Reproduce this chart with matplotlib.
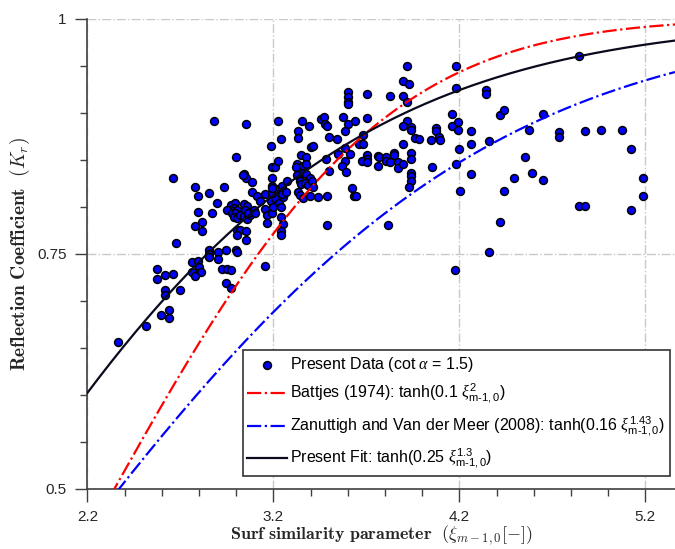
import matplotlib
matplotlib.use("Agg")
import matplotlib.pyplot as plt
from matplotlib.font_manager import FontProperties
import numpy as np

plt.rcParams['font.family'] = ['Liberation Sans', 'DejaVu Sans']
plt.rcParams['mathtext.fontset'] = 'cm'
# custom math fonts are only used by the legend (sans scripts, serif italic greek)
plt.rcParams['mathtext.rm'] = 'Liberation Sans'
plt.rcParams['mathtext.sf'] = 'Liberation Sans'
plt.rcParams['mathtext.it'] = 'Liberation Serif:italic'
plt.rcParams['mathtext.bf'] = 'Liberation Sans:bold'

# measured data: surf similarity parameter and reflection coefficient
xi_data = [
    2.362, 2.514, 2.596, 2.638, 2.638, 2.616, 2.616, 2.696, 2.576, 2.576,
    2.616, 2.658, 2.678, 2.760, 2.795, 2.799, 2.760, 2.808, 2.778, 2.658,
    2.778, 2.794, 2.795, 2.778, 2.817, 2.817, 2.852, 2.852, 2.852, 2.852,
    2.902, 2.902, 2.947, 3.000, 3.004, 2.924, 2.950, 2.974, 2.947, 2.972,
    3.054, 3.156, 2.870, 2.894, 2.933, 2.883, 3.054, 3.000, 2.972, 2.995,
    2.986, 3.004, 2.965, 2.950, 2.977, 2.995, 2.986, 3.004, 3.022, 3.040,
    3.057, 3.075, 3.040, 3.057, 3.049, 3.066, 3.093, 3.102, 3.004, 3.022,
    3.004, 3.054, 3.040, 3.052, 3.036, 3.084, 3.084, 3.111, 3.156, 3.129,
    3.156, 3.164, 3.164, 3.191, 3.188, 3.200, 3.209, 3.232, 3.239, 3.250,
    3.239, 3.253, 3.239, 3.239, 3.191, 3.218, 3.248, 3.244, 3.268, 3.193,
    3.193, 3.193, 3.271, 3.191, 3.209, 3.223, 3.189, 3.239, 3.223, 3.353,
    3.392, 3.334, 3.334, 3.403, 3.348, 3.375, 3.325, 3.321, 3.360, 3.373,
    3.325, 3.343, 3.357, 3.378, 3.396, 3.351, 3.369, 3.387, 3.405, 3.334,
    3.343, 3.360, 3.399, 3.414, 3.414, 3.441, 3.490, 3.498, 3.490, 3.622,
    3.632, 3.642, 3.458, 3.473, 3.476, 3.490, 3.574, 3.601, 3.638, 3.704,
    3.583, 3.499, 3.544, 3.681, 3.658, 3.681, 3.583, 3.548, 3.610, 3.485,
    3.583, 3.571, 3.592, 3.704, 3.704, 3.678, 3.704, 3.761, 3.761, 3.601,
    3.601, 3.601, 3.601, 3.704, 3.826, 3.918, 3.895, 3.931, 3.895, 3.917,
    3.917, 3.895, 3.940, 3.940, 3.963, 3.984, 4.050, 3.895, 3.767, 3.803,
    3.803, 3.847, 3.847, 3.827, 3.872, 3.872, 3.895, 3.940, 3.940, 3.940,
    3.940, 3.940, 3.929, 4.052, 3.815, 4.180, 4.180, 4.341, 4.341, 4.421,
    4.439, 4.845, 4.649, 4.159, 4.159, 4.195, 4.195, 4.073, 4.073, 4.091,
    4.095, 4.262, 4.262, 4.198, 4.362, 4.574, 4.736, 4.736, 4.877, 4.963,
    5.077, 5.125, 4.555, 4.180, 4.592, 4.263, 4.492, 4.649, 5.189, 5.189,
    4.202, 4.439, 4.842, 4.877, 5.125, 4.421, 4.362, 4.179,
]
kr_data = [
    0.656, 0.673, 0.685, 0.690, 0.682, 0.711, 0.706, 0.711, 0.734, 0.723,
    0.727, 0.728, 0.761, 0.741, 0.742, 0.736, 0.731, 0.731, 0.726, 0.831,
    0.821, 0.811, 0.794, 0.779, 0.784, 0.774, 0.815, 0.754, 0.750, 0.747,
    0.752, 0.744, 0.754, 0.754, 0.752, 0.734, 0.734, 0.733, 0.719, 0.714,
    0.765, 0.737, 0.793, 0.804, 0.821, 0.891, 0.888, 0.853, 0.802, 0.804,
    0.799, 0.797, 0.796, 0.796, 0.793, 0.793, 0.789, 0.788, 0.791, 0.790,
    0.787, 0.791, 0.803, 0.801, 0.797, 0.793, 0.797, 0.793, 0.775, 0.775,
    0.770, 0.774, 0.835, 0.831, 0.834, 0.826, 0.816, 0.811, 0.814, 0.806,
    0.798, 0.791, 0.783, 0.793, 0.806, 0.800, 0.809, 0.804, 0.800, 0.810,
    0.789, 0.782, 0.774, 0.770, 0.815, 0.819, 0.822, 0.813, 0.816, 0.822,
    0.820, 0.831, 0.827, 0.842, 0.842, 0.849, 0.865, 0.872, 0.891, 0.891,
    0.886, 0.880, 0.873, 0.863, 0.855, 0.853, 0.845, 0.842, 0.843, 0.845,
    0.834, 0.827, 0.836, 0.835, 0.831, 0.824, 0.825, 0.823, 0.827, 0.816,
    0.812, 0.809, 0.811, 0.864, 0.821, 0.810, 0.811, 0.838, 0.781, 0.820,
    0.811, 0.811, 0.893, 0.895, 0.888, 0.886, 0.895, 0.888, 0.891, 0.894,
    0.880, 0.874, 0.872, 0.876, 0.867, 0.867, 0.862, 0.856, 0.856, 0.851,
    0.849, 0.843, 0.837, 0.855, 0.851, 0.849, 0.847, 0.854, 0.843, 0.922,
    0.917, 0.911, 0.909, 0.920, 0.918, 0.950, 0.934, 0.930, 0.918, 0.911,
    0.891, 0.886, 0.885, 0.881, 0.873, 0.872, 0.871, 0.867, 0.853, 0.853,
    0.849, 0.857, 0.855, 0.847, 0.848, 0.841, 0.845, 0.857, 0.851, 0.836,
    0.833, 0.827, 0.821, 0.842, 0.781, 0.950, 0.926, 0.924, 0.920, 0.897,
    0.903, 0.960, 0.899, 0.898, 0.886, 0.890, 0.881, 0.884, 0.880, 0.874,
    0.871, 0.880, 0.867, 0.861, 0.870, 0.881, 0.879, 0.874, 0.880, 0.881,
    0.881, 0.861, 0.853, 0.845, 0.836, 0.835, 0.831, 0.828, 0.831, 0.811,
    0.817, 0.817, 0.801, 0.801, 0.796, 0.784, 0.752, 0.733,
]

# empirical formulas Kr = tanh(a * xi^b)
fit_names = [
    r'Battjes (1974): tanh(0.1 $\xi^{\mathrm{2}}_{\mathrm{m\text{-}1,0}}$)',
    r'Zanuttigh and Van der Meer (2008): tanh(0.16 $\xi^{\mathrm{1.43}}_{\mathrm{m\text{-}1,0}}$)',
    r'Present Fit: tanh(0.25 $\xi^{\mathrm{1.3}}_{\mathrm{m\text{-}1,0}}$)',
]
fit_a = [0.1, 0.16, 0.25]
fit_b = [2.0, 1.43, 1.3]
fit_colors = ['#ff0000', '#0000ff', '#0a0a1e']
fit_styles = ['-.', '-.', '-']

x_ticks = [2.2, 3.2, 4.2, 5.2]
y_ticks = [0.5, 0.75, 1.0]
y_tick_labels = ['0.5', '0.75', '1']

fig = plt.figure(figsize=(6.75, 5.49), dpi=100)
ax = fig.add_axes([0.1296, 0.1093, 0.8704, 0.857])

ax.scatter(xi_data, kr_data, s=32, facecolor='#0000ff', edgecolor='black',
           linewidth=1.1, zorder=3, label=r'Present Data (cot $\alpha$ = 1.5)')

xx = np.linspace(2.2, 5.36, 400)
for name, a, b, c, ls in zip(fit_names, fit_a, fit_b, fit_colors, fit_styles):
    ax.plot(xx, np.tanh(a * xx ** b), color=c, linestyle=ls, linewidth=1.6,
            label=name, zorder=4)

ax.set_xlim(2.2, 5.36)
ax.set_ylim(0.5, 1.0)
ax.set_xticks(x_ticks)
ax.set_xticklabels([f'{v:.1f}' for v in x_ticks])
ax.set_yticks(y_ticks)
ax.set_yticklabels(y_tick_labels)
ax.set_xticks(np.arange(2.2, 5.36, 0.2), minor=True)
ax.set_yticks(np.arange(0.5, 1.0, 0.05), minor=True)

ax.grid(True, which='major', color='#c8c8c8', linestyle='-.', linewidth=1.0)
ax.set_axisbelow(True)
for side in ['top', 'right']:
    ax.spines[side].set_visible(False)
for side in ['left', 'bottom']:
    ax.spines[side].set_color('#404040')
    ax.spines[side].set_linewidth(1.2)

ax.tick_params(which='major', direction='out', length=9, width=1.0,
               colors='#404040', labelsize=11, labelcolor='#262626')
ax.tick_params(which='minor', direction='out', length=5, width=1.0,
               colors='#404040')
ax.tick_params(axis='x', which='major', pad=6)
ax.tick_params(axis='y', which='major', pad=6)

ax.set_xlabel(r'$\mathbf{Surf\ similarity\ parameter}\ \ (\xi_{m-1,0}[-])$',
              fontsize=13, color='#262626', labelpad=0)
ax.set_ylabel(r'$\mathbf{Reflection\ Coefficient}\ \ (K_r)$',
              fontsize=14, color='#262626', labelpad=4)

leg_font = FontProperties(family='Liberation Sans', size=11.5,
                          math_fontfamily='custom')
leg = ax.legend(loc='lower right', bbox_to_anchor=(0.9915, 0.028),
                prop=leg_font, frameon=True, fancybox=False, framealpha=1,
                edgecolor='#333333', handlelength=2.5, handletextpad=0.2,
                borderpad=0.3, labelspacing=0.5, borderaxespad=0)
leg.get_frame().set_linewidth(1.2)

fig.savefig('out.png', dpi=100)
